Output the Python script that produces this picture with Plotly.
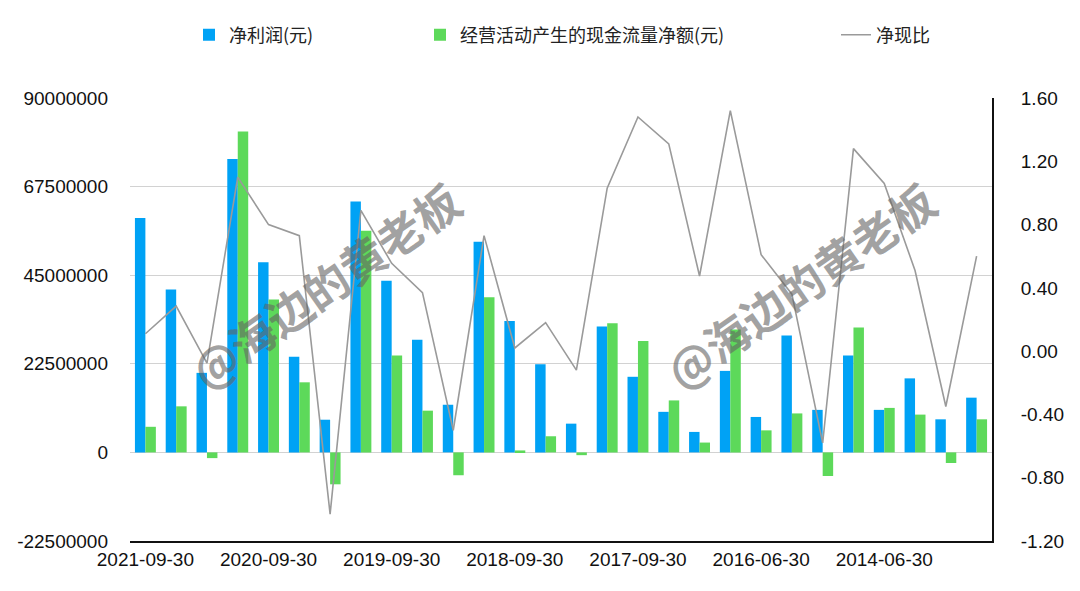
import plotly.graph_objects as go

categories = [
    "2021-09-30", "2021-06-30", "2021-03-31", "2020-12-31",
    "2020-09-30", "2020-06-30", "2020-03-31", "2019-12-31",
    "2019-09-30", "2019-06-30", "2019-03-31", "2018-12-31",
    "2018-09-30", "2018-06-30", "2018-03-31", "2017-12-31",
    "2017-09-30", "2017-06-30", "2017-03-31", "2016-12-31",
    "2016-06-30", "2015-12-31", "2015-06-30", "2014-12-31",
    "2014-06-30", "2013-12-31", "2013-06-30", "2012-12-31",
]

net_profit = [
    59500000, 41400000, 20200000, 74500000,
    48300000, 24300000, 8300000, 63700000,
    43600000, 28600000, 12100000, 53500000,
    33400000, 22400000, 7300000, 32000000,
    19200000, 10300000, 5200000, 20700000,
    9000000, 29700000, 10800000, 24600000,
    10800000, 18800000, 8400000, 13900000,
]

operating_cf = [
    6500000, 11700000, -1450000, 81500000,
    38800000, 17800000, -8100000, 56300000,
    24600000, 10600000, -5800000, 39400000,
    500000, 4100000, -700000, 32800000,
    28300000, 13200000, 2500000, 31200000,
    5600000, 9900000, -6000000, 31700000,
    11300000, 9600000, -2700000, 8400000,
]

cash_ratio = [
    0.11, 0.285, -0.075, 1.10,
    0.80, 0.73, -1.03, 0.89,
    0.555, 0.37, -0.50, 0.73,
    0.02, 0.18, -0.12, 1.03,
    1.48, 1.31, 0.475, 1.52,
    0.61, 0.36, -0.58, 1.28,
    1.06, 0.51, -0.35, 0.60,
]

shown_dates = ["2021-09-30", "2020-09-30", "2019-09-30", "2018-09-30",
               "2017-09-30", "2016-06-30", "2014-06-30"]

left_ticks = [-22500000, 0, 22500000, 45000000, 67500000, 90000000]
left_labels = ["-22500000", "0", "22500000", "45000000", "67500000", "90000000"]
right_ticks = [-1.2, -0.8, -0.4, 0.0, 0.4, 0.8, 1.2, 1.6]
right_labels = ["-1.20", "-0.80", "-0.40", "0.00", "0.40", "0.80", "1.20", "1.60"]

watermark = "@海边的黄老板"

FONT = "Liberation Sans, Arial, Noto Sans CJK SC, sans-serif"
CJK = "Noto Sans CJK SC, Liberation Sans, sans-serif"

fig = go.Figure()
fig.add_trace(go.Bar(
    x=categories, y=net_profit, name="净利润(元)",
    marker=dict(color="#00A2F5", line=dict(width=0)),
    legend="legend", showlegend=True,
))
fig.add_trace(go.Bar(
    x=categories, y=operating_cf, name="经营活动产生的现金流量净额(元)",
    marker=dict(color="#5DD95A", line=dict(width=0)),
    legend="legend2", showlegend=True,
))
fig.add_trace(go.Scatter(
    x=categories, y=cash_ratio, name="净现比", mode="lines",
    line=dict(color="#9A9A9A", width=1.6),
    yaxis="y2", legend="legend3", showlegend=True,
))

legend_common = dict(
    orientation="h", yanchor="middle", y=1.142, xanchor="left",
    font=dict(family=CJK, size=18, color="#222222"),
    bgcolor="rgba(0,0,0,0)", borderwidth=0,
)

annotations = []
for cx, cy in [(0.226, 0.58), (0.777, 0.58)]:
    annotations.append(dict(
        x=cx, y=cy, xref="paper", yref="paper", xanchor="center", yanchor="middle",
        text="<b>" + watermark + "</b>",
        showarrow=False, textangle=-35,
        font=dict(family=CJK, size=45, color="rgba(100,100,100,0.6)"),
    ))

fig.update_layout(
    width=1080, height=591,
    margin=dict(l=122, r=96, t=90, b=58, autoexpand=False),
    paper_bgcolor="white", plot_bgcolor="white",
    barmode="group", bargap=0.32, bargroupgap=0,
    showlegend=True,
    font=dict(family=FONT, size=18, color="#111111"),
    legend=dict(x=59 / 862, **legend_common),
    legend2=dict(x=290 / 862, **legend_common),
    legend3=dict(x=706 / 862, **legend_common),
    annotations=annotations,
    xaxis=dict(
        type="category", tickmode="array", tickvals=shown_dates, ticktext=shown_dates,
        showgrid=False, showline=True, linecolor="#111111", linewidth=2,
        ticks="", tickfont=dict(family=FONT, size=19, color="#111111"),
        zeroline=False, automargin=False,
    ),
    yaxis=dict(
        range=[-22500000, 90000000], tickmode="array",
        tickvals=left_ticks, ticktext=left_labels,
        showgrid=True, gridcolor="#D2D2D2", gridwidth=1,
        zeroline=False, showline=False, ticks="",
        ticklabelstandoff=21, automargin=False,
        tickfont=dict(family=FONT, size=19, color="#111111"),
    ),
    yaxis2=dict(
        overlaying="y", side="right",
        range=[-1.2, 1.6], tickmode="array",
        tickvals=right_ticks, ticktext=right_labels,
        showgrid=False, zeroline=False, showline=True,
        linecolor="#111111", linewidth=2, ticks="",
        ticklabelstandoff=23, automargin=False,
        tickfont=dict(family=FONT, size=19, color="#111111"),
    ),
)

fig.write_html("out.html")
